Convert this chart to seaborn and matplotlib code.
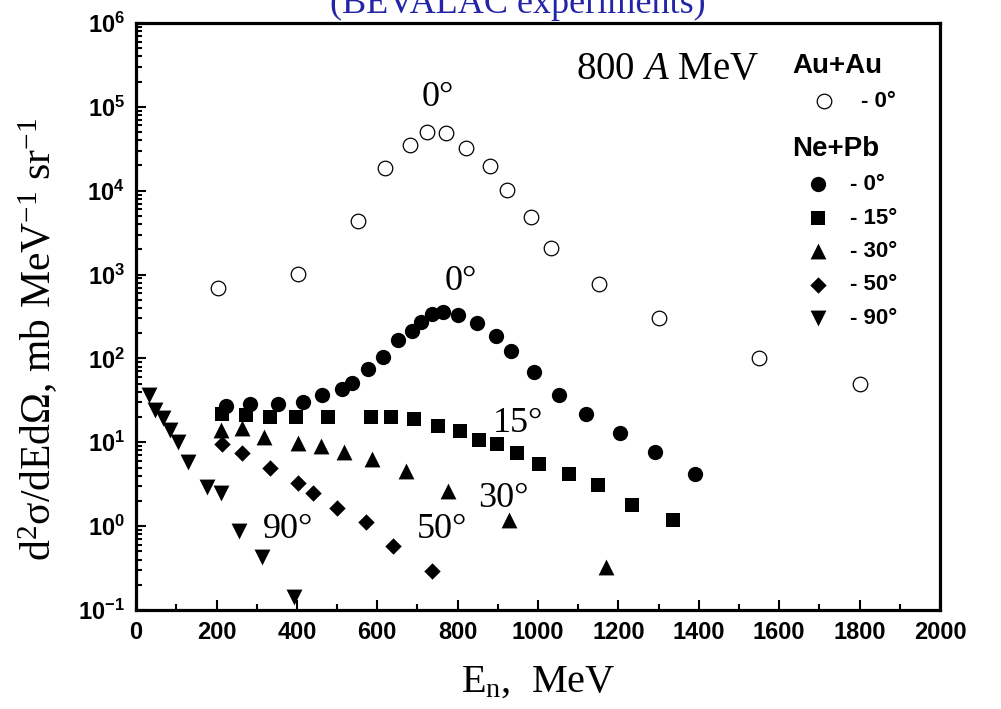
import math
import matplotlib
matplotlib.use('Agg')
import matplotlib.pyplot as plt
import seaborn as sns
import pandas as pd
from matplotlib.ticker import FixedLocator, LogLocator, FuncFormatter, NullFormatter, MultipleLocator

# Au+Au, 0 deg (open circles)
au0_e = [203, 402, 553, 618, 682, 723, 770, 821, 881, 922, 982, 1032, 1152, 1301, 1551, 1801]
au0_y = [690, 1020, 4400, 18700, 35000, 50600, 48300, 32000, 19700, 10200, 4900, 2100, 770, 300, 102, 49]

# Ne+Pb at 0, 15, 30, 50, 90 deg
ne0_e = [223, 284, 354, 414, 463, 512, 538, 578, 613, 652, 687, 708, 735, 763, 802, 847,
         895, 933, 991, 1052, 1120, 1205, 1290, 1390]
ne0_y = [27, 29, 28.6, 30.5, 37, 43, 51, 75, 105, 166, 214, 274, 339, 361, 330, 267,
         185, 124, 68, 37, 22, 13, 7.6, 4.2]

ne15_e = [213, 274, 333, 397, 478, 584, 634, 692, 752, 806, 852, 897, 947, 1003, 1078, 1150, 1235, 1335]
ne15_y = [22, 21, 19.9, 19.9, 20.2, 19.9, 19.9, 18.8, 15.6, 13.7, 10.6, 9.5, 7.5, 5.5, 4.2, 3.1, 1.8, 1.2]

ne30_e = [211, 263, 318, 402, 460, 517, 586, 672, 777, 928, 1170]
ne30_y = [14, 14.7, 11.7, 9.7, 9.0, 7.7, 6.4, 4.5, 2.6, 1.18, 0.33]

ne50_e = [213, 263, 333, 402, 441, 501, 571, 638, 735]
ne50_y = [9.5, 7.5, 5.0, 3.3, 2.46, 1.63, 1.13, 0.58, 0.29]

ne90_e = [32, 47, 66, 85, 105, 128, 177, 211, 257, 313, 393]
ne90_y = [36.6, 24, 19.3, 14, 10.2, 5.9, 2.95, 2.46, 0.88, 0.43, 0.144]

ne_labels = ['- 0°', '- 15°', '- 30°', '- 50°', '- 90°']

sns.set_style('ticks')
plt.rcParams['font.family'] = ['Liberation Serif', 'DejaVu Serif']
plt.rcParams['mathtext.fontset'] = 'custom'
plt.rcParams['mathtext.rm'] = 'Liberation Serif'
plt.rcParams['mathtext.it'] = 'Liberation Serif:italic'
plt.rcParams['mathtext.bf'] = 'Liberation Sans:bold'
for key in ['text.color', 'axes.labelcolor', 'xtick.color', 'ytick.color', 'axes.edgecolor']:
    plt.rcParams[key] = 'black'

fig = plt.figure(figsize=(10.01, 7.09), dpi=100)
ax = fig.add_axes([0.136, 0.1396, 0.803, 0.828])

ne_sets = [(ne0_e, ne0_y, 'o', 121), (ne15_e, ne15_y, 's', 95), (ne30_e, ne30_y, '^', 130),
           (ne50_e, ne50_y, 'D', 70), (ne90_e, ne90_y, 'v', 130)]
ne_handles = []
for (e, y, m, s), lab in zip(ne_sets, ne_labels):
    df = pd.DataFrame({'E': e, 'y': y})
    sns.scatterplot(data=df, x='E', y='y', marker=m, s=s, color='black', edgecolor='black',
                    linewidth=0, ax=ax, zorder=3)
    ne_handles.append(ax.collections[-1])

au_df = pd.DataFrame({'E': au0_e, 'y': au0_y})
sns.scatterplot(data=au_df, x='E', y='y', marker='o', s=110, color='white', edgecolor='black',
                linewidth=0.9, ax=ax, zorder=4)
au_handle = ax.collections[-1]

ax.set_yscale('log')
ax.set_xlim(0, 2000)
ax.set_ylim(0.1, 1e6)

# ticks
ax.xaxis.set_major_locator(MultipleLocator(200))
ax.xaxis.set_minor_locator(MultipleLocator(100))
ax.yaxis.set_major_locator(FixedLocator([10.0 ** k for k in range(-1, 7)]))
ax.yaxis.set_minor_locator(LogLocator(base=10, subs=range(2, 10), numticks=20))
ax.yaxis.set_minor_formatter(NullFormatter())
ax.yaxis.set_major_formatter(FuncFormatter(lambda v, p: r'$\mathbf{10^{%d}}$' % round(math.log10(v))))
ax.tick_params(which='both', direction='in', top=False, right=False, width=1.5)
ax.tick_params(which='major', length=7, labelsize=17, pad=8)
ax.tick_params(which='minor', length=4.5)
for lab in ax.get_xticklabels():
    lab.set_family('Liberation Sans')
    lab.set_weight('bold')
for sp in ax.spines.values():
    sp.set_linewidth(2.3)

ax.set_xlabel(r'E$_\mathrm{n}$,  MeV', fontsize=29, labelpad=14)
ax.set_ylabel(r'd$^2$σ/dEdΩ, mb MeV$^{-1}$ sr$^{-1}$', fontsize=30)
ax.yaxis.set_label_coords(-0.095, 0.46)

# annotations
ax.text(751, 1.3e5, '0°', fontsize=26, ha='center', va='center')
ax.text(808, 830, '0°', fontsize=26, ha='center', va='center')
ax.text(951, 16.8, '15°', fontsize=26, ha='center', va='center')
ax.text(914, 2.15, '30°', fontsize=26, ha='center', va='center')
ax.text(760, 0.9, '50°', fontsize=26, ha='center', va='center')
ax.text(379, 0.9, '90°', fontsize=26, ha='center', va='center')
ax.text(1321, 2.75e5, r'800 $\it{A}$ MeV', fontsize=28, ha='center', va='center')

# legends
lab_font = {'family': 'Liberation Sans', 'weight': 'bold', 'size': 16}
title_font = {'family': 'Liberation Sans', 'weight': 'bold', 'size': 20}
leg1 = ax.legend(handles=[au_handle], labels=['- 0°'], title='Au+Au', loc='upper left',
                 bbox_to_anchor=(0.816, 0.948), frameon=False, prop=lab_font,
                 title_fontproperties=title_font, alignment='left', handletextpad=0.2,
                 borderaxespad=0, borderpad=0, handlelength=2.9)
ax.add_artist(leg1)
ax.legend(handles=ne_handles, labels=ne_labels, title='Ne+Pb', loc='upper left',
          bbox_to_anchor=(0.816, 0.808), frameon=False, prop=lab_font,
          title_fontproperties=title_font, alignment='left', handletextpad=0.27,
          borderaxespad=0, borderpad=0, handlelength=2.34, labelspacing=0.56)

fig.text(0.517, 1 - 13 / 709, '(BEVALAC experiments)', fontsize=26, color='#2424a8',
         ha='center', va='baseline')

fig.savefig('out.png', dpi=100)
